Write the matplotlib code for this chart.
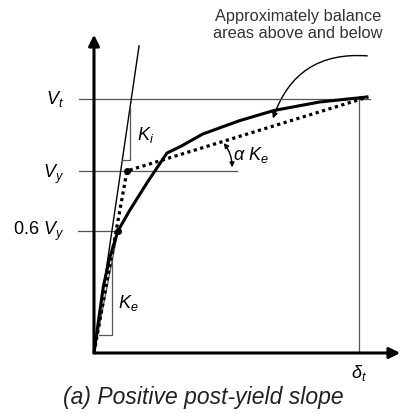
import matplotlib
matplotlib.use("Agg")
import matplotlib.pyplot as plt
from matplotlib.patches import FancyArrowPatch

plt.rcParams['font.family'] = ['Liberation Sans', 'DejaVu Sans']
plt.rcParams['mathtext.fontset'] = 'custom'
plt.rcParams['mathtext.rm'] = 'Liberation Sans'
plt.rcParams['mathtext.it'] = 'Liberation Sans:italic'

# displacement normalised by delta_t, shear normalised by V_t
V_t = 1.0
V_y = 0.717
V_06 = 0.48          # level drawn for 0.6 V_y (sketch, not to scale)
d_t = 1.0

# actual pushover curve
curve_d = [0.0, 0.008, 0.02, 0.035, 0.058, 0.09, 0.135, 0.2, 0.275,
           0.33, 0.41, 0.55, 0.68, 0.85, 1.03]
curve_v = [0.0, 0.06, 0.15, 0.26, 0.37, 0.48, 0.562, 0.67, 0.787,
           0.815, 0.862, 0.915, 0.955, 0.988, 1.008]

# idealised bilinear curve
bilin_d = [0.0, 0.1245, 1.034]
bilin_v = [0.0, V_y, 1.008]

# initial stiffness line
ki_d = [0.0, 0.170]
ki_v = [0.0, 1.209]

fig = plt.figure(figsize=(4.04, 4.13), dpi=100)
ax = fig.add_axes([0, 0, 1, 1])
ax.set_xlim(-0.3547, 1.1698)
ax.set_ylim(-0.2362, 1.3898)
ax.axis('off')

gray = '#555555'
# reference levels
ax.plot([-0.057, 1.042], [V_t, V_t], color=gray, lw=0.9)
ax.plot([-0.057, 0.54], [V_y, V_y], color=gray, lw=0.9)
ax.plot([-0.06, 0.0906], [V_06, V_06], color=gray, lw=0.9)
ax.plot([d_t, d_t], [0, V_t], color=gray, lw=0.9)

# axes arrows
ax.annotate('', xy=(0, 1.264), xytext=(0, -0.004),
            arrowprops=dict(arrowstyle='-|>', lw=2.2, color='black', mutation_scale=16))
ax.annotate('', xy=(1.166, 0), xytext=(-0.004, 0),
            arrowprops=dict(arrowstyle='-|>', lw=2.2, color='black', mutation_scale=16))

# stiffness lines and triangles
ax.plot(ki_d, ki_v, color='black', lw=1.0)
ax.plot([0.1057, 0.1358, 0.1358], [0.76, 0.76, 0.965], color=gray, lw=0.9)
ax.plot([0.0, 0.0906], [0.0, V_06], color=gray, lw=0.9)
ax.plot([0.02, 0.068, 0.068], [0.071, 0.071, 0.374], color=gray, lw=0.9)

# curves
ax.plot(curve_d, curve_v, color='black', lw=2.2, solid_joinstyle='round')
ax.plot(bilin_d, bilin_v, color='black', lw=2.3, linestyle=(0, (1, 1.1)))
ax.plot([0.0906, 0.1245], [V_06, V_y], 'o', color='black', ms=4)

# labels
ax.text(-0.113, V_t, '$V_t$', ha='right', va='center', fontsize=13)
ax.text(-0.113, V_y - 0.015, '$V_y$', ha='right', va='center', fontsize=13)
ax.text(-0.113, V_06, r'$\mathit{0.6}\ V_y$', ha='right', va='center', fontsize=13)
ax.text(0.162, 0.858, '$K_i$', ha='left', va='center', fontsize=13)
ax.text(0.09, 0.197, '$K_e$', ha='left', va='center', fontsize=13)
ax.text(0.525, 0.78, r'$\alpha\ K_e$', ha='left', va='center', fontsize=13)
ax.text(d_t, -0.079, r'$\delta_t$', ha='center', va='center', fontsize=13)
ax.text(0.411, -0.177, '(a) Positive post-yield slope', ha='center', va='center',
        fontsize=16.5, style='italic', color='#222222')
ax.text(0.77, 1.291, 'Approximately balance\nareas above and below', ha='center',
        va='center', fontsize=11.8, linespacing=1.2, color='#333333')

# pointer to balanced areas
ax.add_patch(FancyArrowPatch((1.0415, 1.169), (0.672, 0.913),
                             connectionstyle='arc3,rad=0.4', arrowstyle='-|>',
                             mutation_scale=8, lw=1.0, color='black'))
# alpha Ke dimension arc
ax.add_patch(FancyArrowPatch((0.483, 0.835), (0.521, 0.72),
                             connectionstyle='arc3,rad=-0.2', arrowstyle='<|-|>',
                             mutation_scale=7, lw=1.0, color='black'))

fig.savefig('out.png', dpi=100)
